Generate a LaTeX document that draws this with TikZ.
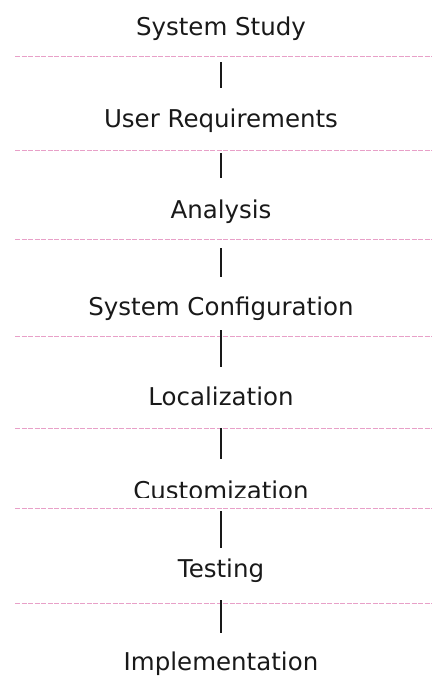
\documentclass[tikz,border=0pt]{standalone}
\usepackage{fontspec}
\setmainfont{DejaVu Sans}
\definecolor{rulepink}{RGB}{232, 160, 200}
\definecolor{ink1}{RGB}{25, 25, 25}
\usetikzlibrary{positioning}

\begin{document}
\begin{tikzpicture}[x=1pt, y=-1pt,
    phase/.style={text=ink1, font=\fontsize{24.5}{28}\selectfont, inner sep=0pt, text height=17pt, text depth=0pt},
    link/.style={draw=ink1, line width=1.3pt},
    sheetrule/.style={draw=rulepink, line width=1pt, dash pattern=on 5pt off 1.5pt}]
  \useasboundingbox (0,0) rectangle (437,684);

  % faint ruled lines of the sheet
  \foreach \ry in {56.5, 150.5, 239.5, 336.5, 428.5, 508.5, 603.5}
    \draw[sheetrule] (15,\ry) -- (432,\ry);

  % phases
  \node[phase] (study) at (221,27) {System Study};
  \node[phase] (usereq) at (221,119) {User Requirements};
  \node[phase] (analysis) at (221,210) {Analysis};
  \node[phase] (config) at (221,307) {System Configuration};
  \node[phase] (local) at (221,397) {Localization};
  \begin{scope}
    \clip (0,470) rectangle (437,497);
    \node[phase] (custom) at (221,491) {Customization};
  \end{scope}
  \node[phase] (testing) at (221,569) {Testing};
  \node[phase] (implement) at (221,662) {Implementation};

  % connectors
  \draw[link, shorten <=26.5pt, shorten >=22.5pt] (study) -- (usereq);
  \draw[link, shorten <=25.5pt, shorten >=23.5pt] (usereq) -- (analysis);
  \draw[link, shorten <=29.5pt, shorten >=21.5pt] (analysis) -- (config);
  \draw[link, shorten <=14.5pt, shorten >=21.5pt] (config) -- (local);
  \draw[link, shorten <=22.5pt, shorten >=23.5pt] (local) -- (custom);
  \draw[link, shorten <=11.5pt, shorten >=12.5pt] (custom) -- (testing);
  \draw[link, shorten <=22.5pt, shorten >=20.5pt] (testing) -- (implement);
\end{tikzpicture}
\end{document}
